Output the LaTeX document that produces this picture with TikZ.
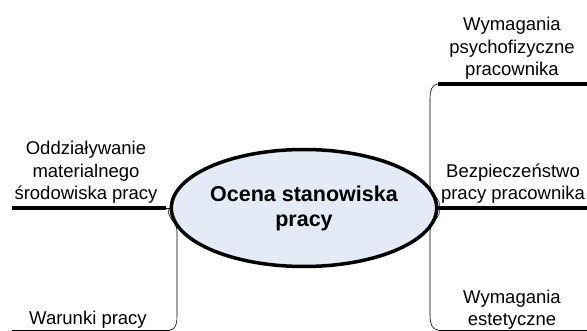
\documentclass[tikz,border=0pt]{standalone}
\usepackage{fontspec}
\setmainfont{Liberation Sans}
\usetikzlibrary{shapes.geometric}
\definecolor{hubfill}{HTML}{E4EAF6}

\begin{document}
\begin{tikzpicture}[
    x=1pt, y=-1pt,
    font=\fontsize{18.5}{22.5}\selectfont,
    hub/.style={ellipse, draw, line width=3.5pt, fill=hubfill,
                minimum width=236pt, minimum height=117pt, align=center,
                inner sep=0pt, font=\fontsize{21.5}{25}\selectfont\bfseries},
    topic/.style={align=center, anchor=south, inner sep=0pt},
    bar/.style={line width=3.5pt},
    rule/.style={line width=0.8pt},
    link/.style={line width=0.6pt}
  ]
  \useasboundingbox (0,0) rectangle (587,331);

  \node[hub] (core) at (304,208) {Ocena stanowiska\\pracy};

  % Line ends of the branches.
  \coordinate (pa) at (438,84);   \coordinate (pae) at (587,84);
  \coordinate (pb) at (438,208);  \coordinate (pbe) at (587,208);
  \coordinate (pc) at (438,330);  \coordinate (pce) at (587,330);
  \coordinate (la) at (166,208);  \coordinate (las) at (12,208);
  \coordinate (lb) at (170,330);  \coordinate (lbs) at (12,330);

  \node[topic] (psy) at (512,80)  {Wymagania\\psychofizyczne\\pracownika};
  \node[topic] (bhp) at (513,204) {Bezpieczeństwo\\pracy pracownika};
  \node[topic] (est) at (512,330) {Wymagania\\estetyczne};
  \node[topic] (env) at (86,204)  {Oddziaływanie\\materialnego\\środowiska pracy};
  \node[topic] (war) at (88,329)  {Warunki pracy};

  % Underlines.
  \draw[bar]  (pa) -- (pae);
  \draw[bar]  (pb) -- (pbe);
  \draw[rule] (pc) -- (pce);
  \draw[bar]  (las) -- (la);
  \draw[rule] (lbs) -- (lb);

  % Connectors from the hub.
  \draw[link] (core.east) to[out=60,in=-90] (430,185) -- (430,98)
    to[out=90,in=180] (pa);
  \draw[link] (core.east) -- (pb);
  \draw[link] (core.east) to[out=-60,in=90] (430,231) -- (430,316)
    to[out=-90,in=180] (pc);
  \draw[link] (core.west) -- (la);
  \draw[link] (core.west) to[out=-120,in=90] (177,231) -- (177,316)
    to[out=-90,in=0] (lb);

\end{tikzpicture}
\end{document}
